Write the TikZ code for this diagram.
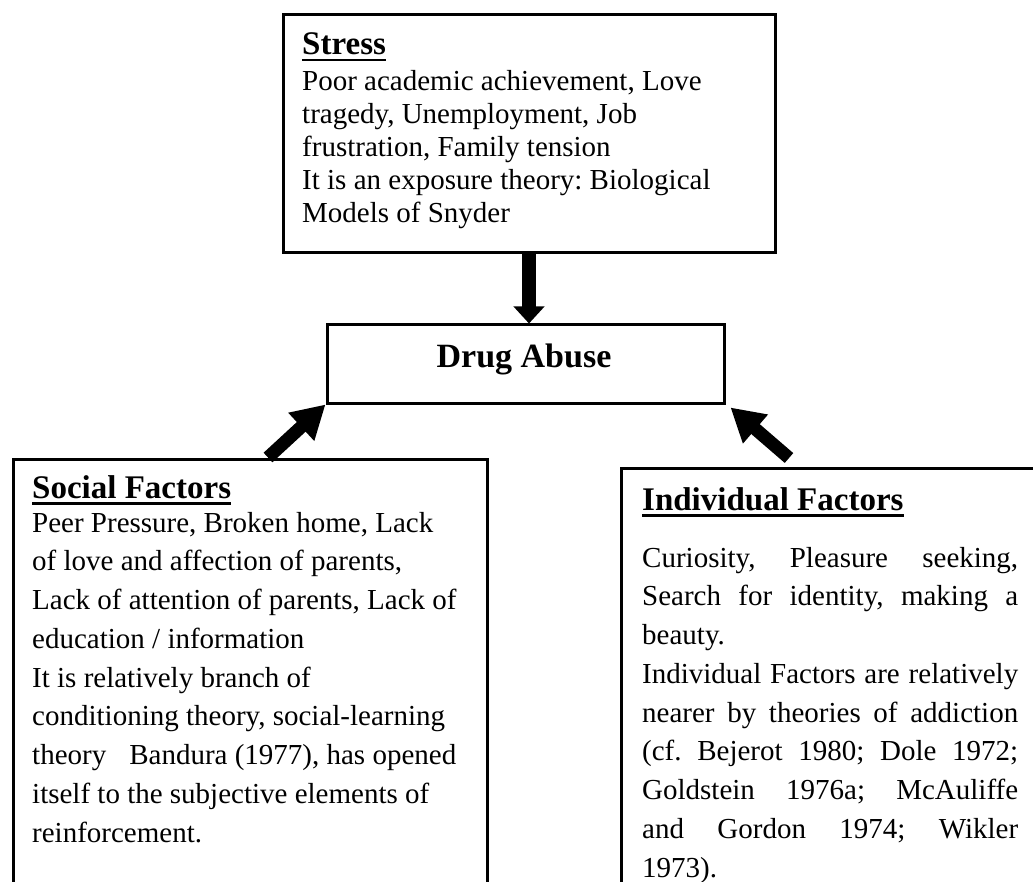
\documentclass[tikz,border=0pt]{standalone}
\usepackage{fontspec}
\setmainfont{Liberation Serif}
\usetikzlibrary{arrows.meta}
\hbadness=10000
\frenchspacing
\newcommand\ulhead[1]{\setbox0\hbox{#1}\rlap{\rule[-6.5pt]{\wd0}{2.8pt}}\box0}
\newcommand\jline[1]{\hbox to 376pt{#1}}
\begin{document}
\begin{tikzpicture}[x=1pt,y=-1pt,
  box/.style={draw=black, line width=3pt, rectangle, inner sep=0pt, anchor=north west},
  txt/.style={inner sep=0pt, anchor=base west},
  headfont/.style={font=\fontsize{33}{33}\selectfont\bfseries},
  vfat/.style={line width=14pt, -{Triangle[length=17pt,width=30pt]}},
  dfat/.style={line width=13pt, -{Triangle[length=33pt,width=36pt]}}
]
\useasboundingbox (0,0) rectangle (1033,882);
\clip (0,0) rectangle (1033,882);

% boxes
\node[box, minimum width=492pt, minimum height=238pt] (stress) at (281.5,13.5) {};
\node[box, minimum width=397pt, minimum height=78pt] (drug) at (325.5,323.5) {};
\node[box, minimum width=474pt, minimum height=500pt] (social) at (11.5,457.5) {};
\node[box, minimum width=500pt, minimum height=500pt] (indiv) at (619.5,466.5) {};

% Stress
\node[txt, headfont] (stresshead) at (302,55) {\ulhead{Stress}};
\node[txt] (stressbody) at (302,91) {\vtop{\fontsize{29}{33}\selectfont
  \hbox{Poor academic achievement, Love}
  \hbox{tragedy, Unemployment, Job}
  \hbox{frustration, Family tension}
  \hbox{It is an exposure theory: Biological}
  \hbox{Models of Snyder}}};

% Drug Abuse
\node[inner sep=0pt, anchor=base, font=\fontsize{34}{34}\selectfont\bfseries] (drugtxt) at (524,367) {Drug Abuse};

% Social
\node[txt, headfont] (socialhead) at (32,498.5) {\ulhead{Social Factors}};
\node[txt] (socialbody) at (32,532) {\vtop{\fontsize{29}{38.75}\selectfont
  \hbox{Peer Pressure, Broken home, Lack}
  \hbox{of love and affection of parents,}
  \hbox{Lack of attention of parents, Lack of}
  \hbox{education / information}
  \hbox{It is relatively branch of}
  \hbox{conditioning theory, social-learning}
  \hbox{theory\hspace{23pt}Bandura (1977), has opened}
  \hbox{itself to the subjective elements of}
  \hbox{reinforcement.}}};

% Individual
\node[txt, headfont] (indivhead) at (642,510.5) {\ulhead{Individual Factors}};
\node[txt] (indivbody) at (642,567) {\vtop{\fontsize{29}{38.75}\selectfont
  \jline{Curiosity, Pleasure seeking,}
  \jline{Search for identity, making a}
  \hbox{beauty.}
  \jline{Individual Factors are relatively}
  \jline{nearer by theories of addiction}
  \jline{(cf. Bejerot 1980; Dole 1972;}
  \jline{Goldstein 1976a; McAuliffe}
  \jline{and Gordon 1974; Wikler}
  \hbox{1973).}}};

% arrows
\draw[vfat] (stress.south) -- (stress.south |- drug.north);
\draw[dfat] ([xshift=256.5pt]social.north west) -- (drug.south west);
\draw[dfat] ([xshift=169.5pt,yshift=8.5pt]indiv.north west) -- ([xshift=5pt,yshift=-3pt]drug.south east);
\end{tikzpicture}
\end{document}
